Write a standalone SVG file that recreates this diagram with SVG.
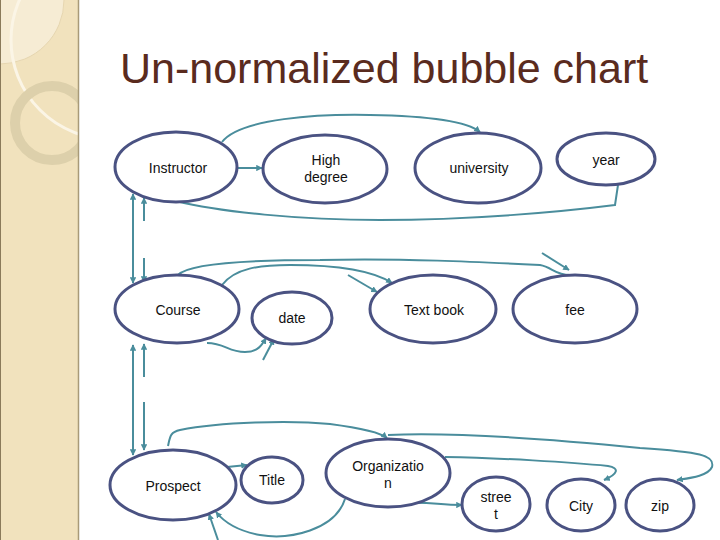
<svg xmlns="http://www.w3.org/2000/svg" width="720" height="540" viewBox="0 0 720 540">
<defs>
<style>
.node ellipse{fill:#fff;stroke:#4a5282;stroke-width:3}
.node text{font-family:"Liberation Sans",Arial,sans-serif;font-size:14px;fill:#111;text-anchor:middle}
.conn path,.conn line{fill:none;stroke:#4a8d9c;stroke-width:2}
.title{font-family:"Liberation Sans",Arial,sans-serif;font-size:43px;fill:#5a2b1e}
</style>
<marker id="ah" viewBox="0 0 10 10" refX="9" refY="5" markerWidth="3.2" markerHeight="3.2" orient="auto-start-reverse">
<path d="M0,0 L10,5 L0,10 z" fill="#4a8d9c"/>
</marker>
<clipPath id="panel"><rect x="0" y="0" width="78" height="540"/></clipPath>
</defs>
<rect width="720" height="540" fill="#fff"/>
<g id="sidebar">
<rect x="0" y="0" width="78" height="540" fill="#f1e2bd"/>
<g clip-path="url(#panel)">
<circle cx="0" cy="0" r="64" fill="#f6ecd4" stroke="#e6d6b0" stroke-width="1"/>
<circle cx="110" cy="40" r="99" fill="none" stroke="#fbf5e6" stroke-width="3"/>
<circle cx="52" cy="123" r="37" fill="none" stroke="#ddd0ab" stroke-width="10"/>
</g>
<line x1="78.5" y1="0" x2="78.5" y2="540" stroke="#a89a78" stroke-width="1.5"/>
<line x1="0.5" y1="0" x2="0.5" y2="540" stroke="#8a7a5a" stroke-width="1"/>
</g>
<text class="title" x="120" y="83">Un-normalized bubble chart</text>
<g class="conn" id="connectors">
<path d="M222,142 C240,118 320,114 370,115 C430,116 468,122 480,132" marker-end="url(#ah)"/>
<line x1="238" y1="168" x2="262" y2="168" marker-end="url(#ah)"/>
<path d="M176,201 C220,212 300,220 380,220 C470,220 560,212 615,205 L618,185"/>
<line x1="133" y1="283" x2="133" y2="194" marker-end="url(#ah)" marker-start="url(#ah)"/>
<line x1="144" y1="221" x2="144" y2="198" marker-end="url(#ah)"/>
<line x1="144" y1="258" x2="144" y2="282" marker-end="url(#ah)"/>
<path d="M178,275 C190,262 260,260 320,260 C400,258 480,262 540,265 C552,267 555,275 570,275"/>
<line x1="542" y1="253" x2="569" y2="270" marker-end="url(#ah)"/>
<path d="M222,285 C235,268 260,265 290,265 C340,265 375,272 392,283" marker-end="url(#ah)"/>
<line x1="348" y1="275" x2="377" y2="292" marker-end="url(#ah)"/>
<path d="M207,343 C225,343 228,352 245,352 C258,352 262,345 266,338" marker-end="url(#ah)"/>
<line x1="263" y1="360" x2="274" y2="339" marker-end="url(#ah)"/>
<line x1="133" y1="345" x2="133" y2="455" marker-end="url(#ah)" marker-start="url(#ah)"/>
<line x1="144" y1="377" x2="144" y2="344" marker-end="url(#ah)"/>
<line x1="144" y1="402" x2="144" y2="450" marker-end="url(#ah)"/>
<path d="M168,446 C170,437 170,432 180,430 C220,422 290,420 330,424 C360,428 380,432 387,438" marker-end="url(#ah)"/>
<path d="M388,435 C460,432 560,440 640,448 C700,452 715,455 712,467 C708,476 690,478 677,480" marker-end="url(#ah)"/>
<path d="M445,457 C500,458 570,462 608,466 C620,468 618,474 604,480" marker-end="url(#ah)"/>
<path d="M410,503 C430,502 440,505 462,505" marker-end="url(#ah)"/>
<line x1="227" y1="467" x2="247" y2="465" marker-end="url(#ah)"/>
<path d="M345,499 C335,530 290,540 260,535 C238,531 224,522 216,512" marker-end="url(#ah)"/>
<line x1="218" y1="540" x2="209" y2="514" marker-end="url(#ah)"/>
</g>
<g class="node" id="instructor"><ellipse cx="176" cy="167" rx="61" ry="35"/><text x="178" y="173">Instructor</text></g>
<g class="node" id="high-degree"><ellipse cx="325" cy="169" rx="62" ry="34"/><text x="326" y="165">High</text><text x="326" y="182">degree</text></g>
<g class="node" id="university"><ellipse cx="478" cy="168" rx="63" ry="35"/><text x="479" y="173">university</text></g>
<g class="node" id="year"><ellipse cx="606" cy="159" rx="49" ry="26"/><text x="606" y="165">year</text></g>
<g class="node" id="course"><ellipse cx="177" cy="309" rx="62" ry="34"/><text x="178" y="315">Course</text></g>
<g class="node" id="date"><ellipse cx="292" cy="318" rx="40" ry="26"/><text x="292" y="323">date</text></g>
<g class="node" id="text-book"><ellipse cx="433" cy="309" rx="63" ry="34"/><text x="434" y="315">Text book</text></g>
<g class="node" id="fee"><ellipse cx="575" cy="309" rx="62" ry="34"/><text x="575" y="315">fee</text></g>
<g class="node" id="prospect"><ellipse cx="173" cy="485" rx="63" ry="35"/><text x="173" y="491">Prospect</text></g>
<g class="node" id="title"><ellipse cx="272" cy="480" rx="31" ry="23"/><text x="272" y="485">Title</text></g>
<g class="node" id="organization"><ellipse cx="388" cy="473" rx="62" ry="34"/><text x="388" y="471">Organizatio</text><text x="388" y="488">n</text></g>
<g class="node" id="street"><ellipse cx="496" cy="504" rx="34" ry="27"/><text x="496" y="502">stree</text><text x="496" y="519">t</text></g>
<g class="node" id="city"><ellipse cx="581" cy="505" rx="34" ry="26"/><text x="581" y="511">City</text></g>
<g class="node" id="zip"><ellipse cx="660" cy="505" rx="34" ry="26"/><text x="660" y="511">zip</text></g>
</svg>
